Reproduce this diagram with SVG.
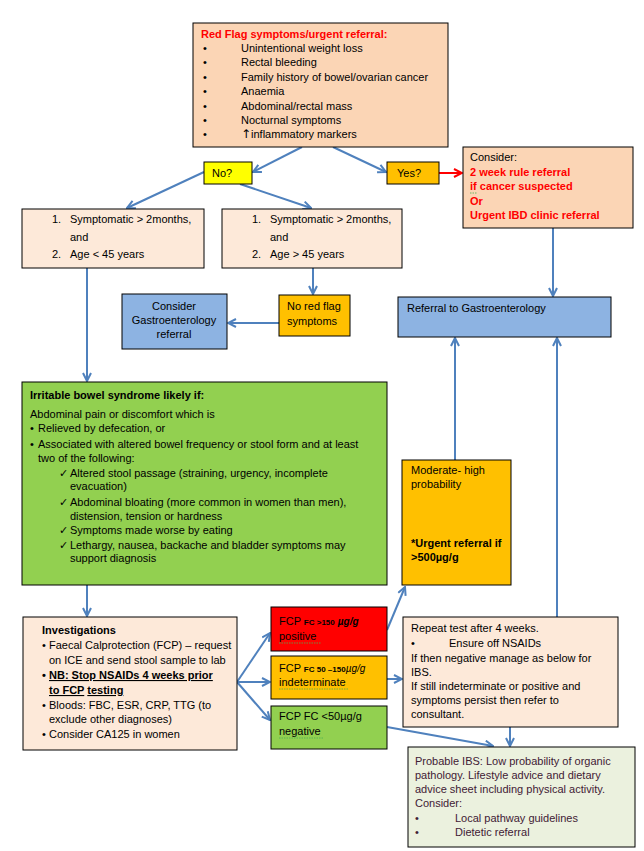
<svg xmlns="http://www.w3.org/2000/svg" width="644" height="851" viewBox="0 0 644 851">
<defs>
<marker id="ab" viewBox="0 0 10 10" refX="9" refY="5" markerWidth="10" markerHeight="10" orient="auto" markerUnits="userSpaceOnUse"><path d="M1,1 L9,5 L1,9" fill="none" stroke="#4F81BD" stroke-width="2"/></marker>
<marker id="ar" viewBox="0 0 10 10" refX="9" refY="5" markerWidth="10" markerHeight="10" orient="auto" markerUnits="userSpaceOnUse"><path d="M1,1 L9,5 L1,9" fill="none" stroke="#FF0000" stroke-width="2"/></marker>
</defs>
<style>
text{font-family:"Liberation Sans",Arial,sans-serif;font-size:11px;fill:#000}
.b{stroke:#000;stroke-width:1}
.pe{fill:#FBD5B5}.li{fill:#FDE9D9}.ye{fill:#FFFF00}.or{fill:#FFC000}.bl{fill:#8DB3E2}.gr{fill:#92D050}.rd{fill:#FF0000}.pg{fill:#EBF1DE}
.red{fill:#FF0000;font-weight:bold}
.bd{font-weight:bold}
.c line{stroke:#4F81BD;stroke-width:2;marker-end:url(#ab)}
.sq{fill:none;stroke:#4CAF50;stroke-width:0.8;stroke-dasharray:1.5 1}
.pt{fill:#3F2035}
</style>
<rect width="644" height="851" fill="#fff"/>
<g class="c">
<line x1="302" y1="147" x2="253" y2="172"/>
<line x1="333" y1="147" x2="386" y2="172"/>
<line x1="439" y1="173" x2="462" y2="173" style="stroke:#FF0000;marker-end:url(#ar)"/>
<line x1="204" y1="172" x2="127" y2="208"/>
<line x1="240" y1="184" x2="311" y2="208"/>
<line x1="87" y1="268" x2="87" y2="381"/>
<line x1="313" y1="268" x2="313" y2="294"/>
<line x1="279" y1="323" x2="228" y2="323"/>
<line x1="553" y1="228" x2="553" y2="296"/>
<line x1="455" y1="460" x2="455" y2="338"/>
<line x1="557" y1="617" x2="557" y2="338"/>
<line x1="87" y1="585" x2="87" y2="616"/>
<line x1="237" y1="682" x2="270" y2="633"/>
<line x1="237" y1="682" x2="270" y2="682"/>
<line x1="237" y1="682" x2="270" y2="720"/>
<line x1="387" y1="630" x2="405" y2="587"/>
<line x1="387" y1="679" x2="402" y2="679"/>
<line x1="387" y1="727" x2="493" y2="746"/>
<line x1="510" y1="727" x2="510" y2="746"/>
</g>
<g id="redflag">
<rect class="pe b" x="193" y="23" width="255" height="124"/>
<text x="201" y="38" class="red">Red Flag symptoms/urgent referral:</text>
<text x="203" y="52">•</text><text x="241" y="52">Unintentional weight loss</text>
<text x="203" y="66">•</text><text x="241" y="66">Rectal bleeding</text>
<text x="203" y="81">•</text><text x="241" y="81">Family history of bowel/ovarian cancer</text>
<text x="203" y="95">•</text><text x="241" y="95">Anaemia</text>
<text x="203" y="110">•</text><text x="241" y="110">Abdominal/rectal mass</text>
<text x="203" y="124">•</text><text x="241" y="124">Nocturnal symptoms</text>
<text x="203" y="138">•</text><text x="241" y="138"><tspan font-family="DejaVu Sans" font-size="12">↑</tspan>inflammatory markers</text>
</g>
<g id="no">
<rect class="ye b" x="204" y="162" width="48" height="22"/>
<text x="212" y="177">No?</text>
</g>
<g id="yes">
<rect class="or b" x="387" y="162" width="52" height="22"/>
<text x="397" y="177">Yes?</text>
</g>
<g id="consider">
<rect class="pe b" x="463" y="147" width="170" height="81"/>
<text x="470" y="161">Consider:</text>
<text x="470" y="176" class="red">2 week rule referral</text>
<text x="470" y="190" class="red">if cancer suspected</text>
<path class="sq" d="M470,193 h7"/>
<text x="470" y="205" class="red">Or</text>
<text x="470" y="219" class="red">Urgent IBD clinic referral</text>
</g>
<g id="under45">
<rect class="li b" x="22" y="209" width="182" height="59"/>
<text x="52" y="223">1.</text><text x="70" y="223">Symptomatic &gt; 2months,</text>
<text x="70" y="241">and</text>
<text x="52" y="258">2.</text><text x="70" y="258">Age &lt; 45 years</text>
</g>
<g id="over45">
<rect class="li b" x="222" y="209" width="180" height="59"/>
<text x="252" y="223">1.</text><text x="270" y="223">Symptomatic &gt; 2months,</text>
<text x="270" y="241">and</text>
<text x="252" y="258">2.</text><text x="270" y="258">Age &gt; 45 years</text>
</g>
<g id="norf">
<rect class="or b" x="279" y="295" width="71" height="41"/>
<text x="287" y="310">No red flag</text>
<text x="287" y="325">symptoms</text>
</g>
<g id="considergastro">
<rect class="bl b" x="122" y="294" width="105" height="55"/>
<text x="174" y="310" text-anchor="middle">Consider</text>
<text x="174" y="324" text-anchor="middle">Gastroenterology</text>
<text x="174" y="338" text-anchor="middle">referral</text>
</g>
<g id="referral">
<rect class="bl b" x="398" y="297" width="213" height="40"/>
<text x="407" y="312">Referral to Gastroenterology</text>
</g>
<g id="ibs">
<rect class="gr b" x="22" y="382" width="365" height="203"/>
<text x="30" y="399" class="bd">Irritable bowel syndrome likely if:</text>
<text x="30" y="418">Abdominal pain or discomfort which is</text>
<text x="30" y="432">•</text><text x="38" y="432">Relieved by defecation, or</text>
<text x="30" y="448">•</text><text x="38" y="448">Associated with altered bowel frequency or stool form and at least</text>
<text x="38" y="462">two of the following:</text>
<text x="59" y="477">✓</text><text x="70" y="477">Altered stool passage (straining, urgency, incomplete</text>
<text x="70" y="490">evacuation)</text>
<text x="59" y="506">✓</text><text x="70" y="506">Abdominal bloating (more common in women than men),</text>
<text x="70" y="520">distension, tension or hardness</text>
<text x="59" y="534">✓</text><text x="70" y="534">Symptoms made worse by eating</text>
<text x="59" y="549">✓</text><text x="70" y="549">Lethargy, nausea, backache and bladder symptoms may</text>
<text x="70" y="562">support diagnosis</text>
</g>
<g id="moderate">
<rect class="or b" x="402" y="460" width="109" height="125"/>
<text x="411" y="474">Moderate- high</text>
<text x="411" y="488">probability</text>
<text x="411" y="547" class="bd">*Urgent referral if</text>
<text x="411" y="561" class="bd">&gt;500µg/g</text>
</g>
<g id="investigations">
<rect class="li b" x="23" y="617" width="214" height="133"/>
<text x="42" y="634" class="bd">Investigations</text>
<text x="42" y="649">•</text><text x="49" y="649">Faecal Calprotection (FCP) – request</text>
<text x="49" y="664">on ICE and send stool sample to lab</text>
<text x="42" y="679" class="bd">•</text><text x="49" y="679" class="bd" text-decoration="underline">NB: Stop NSAIDs 4 weeks prior</text>
<text x="49" y="694" class="bd"><tspan text-decoration="underline">to FCP</tspan> <tspan text-decoration="underline">testing</tspan></text>
<text x="42" y="709">•</text><text x="49" y="709">Bloods: FBC, ESR, CRP, TTG (to</text>
<text x="49" y="723">exclude other diagnoses)</text>
<text x="42" y="738">•</text><text x="49" y="738">Consider CA125 in women</text>
</g>
<g id="fcppos">
<rect class="rd b" x="271" y="607" width="116" height="44"/>
<text x="279" y="625">FCP <tspan class="bd" font-size="8">FC &gt;150</tspan>  <tspan font-style="italic" font-size="10" class="bd">µg/g</tspan></text>
<text x="279" y="640">positive</text>
<path class="sq" d="M279,643 h42"/>
</g>
<g id="fcpind">
<rect class="or b" x="271" y="656" width="116" height="43"/>
<text x="279" y="672">FCP <tspan class="bd" font-size="8">FC 50 –150</tspan><tspan font-style="italic" font-size="10">µg/g</tspan></text>
<text x="279" y="686">indeterminate</text>
<path class="sq" d="M279,689 h70"/>
</g>
<g id="fcpneg">
<rect class="gr b" x="271" y="706" width="116" height="43"/>
<text x="279" y="720">FCP  FC &lt;50µg/g</text>
<text x="279" y="735">negative</text>
<path class="sq" d="M279,738 h44"/>
</g>
<g id="repeat">
<rect class="li b" x="403" y="617" width="215" height="110"/>
<text x="411" y="632">Repeat test after 4 weeks.</text>
<text x="411" y="647">•</text><text x="449" y="647">Ensure off NSAIDs</text>
<text x="411" y="662">If then negative manage as below for</text>
<text x="411" y="676">IBS.</text>
<text x="411" y="690">If still indeterminate or positive and</text>
<text x="411" y="704">symptoms persist then refer to</text>
<text x="411" y="718">consultant.</text>
</g>
<g id="probable">
<rect class="pg b" x="408" y="747" width="227" height="100"/>
<text x="415" y="765" class="pt">Probable IBS: Low probability of organic</text>
<text x="415" y="779" class="pt">pathology. Lifestyle advice and dietary</text>
<text x="415" y="793" class="pt">advice sheet including physical activity.</text>
<text x="415" y="807" class="pt">Consider:</text>
<text x="415" y="822" class="pt">•</text><text x="455" y="822" class="pt">Local pathway guidelines</text>
<text x="415" y="836" class="pt">•</text><text x="455" y="836" class="pt">Dietetic referral</text>
</g>
</svg>
